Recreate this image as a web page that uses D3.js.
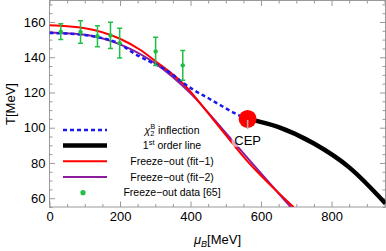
<!DOCTYPE html>
<html>
<head>
<meta charset="utf-8">
<script src="https://cdn.jsdelivr.net/npm/d3@7"></script>
<style>
  body { margin: 0; background: #fff; }
  svg { display: block; font-family: "Liberation Sans", Arial, sans-serif; }
</style>
</head>
<body>
<div id="chart"></div>
<script>
// curves: [muB, T]
const inflection = [[0,153.8],[100,152.6],[130,151.6],[200,147.5],[238,142.4],[286,137.4],[315,134.6],[350,130],[381,125.2],[409,121.4],[452,116.6],[476,113.8],[536,107.2],[562,105]];
const firstOrder = [[562,105],[650,100.3],[750,91],[850,77.5],[953,57]];
const fit1 = [[0,158.1],[100,156.5],[200,150.5],[258,144.1],[301,137.7],[378,125.2],[465,104.5],[561,81],[692,55]];
const fit2 = [[0,154],[100,152.8],[200,147.3],[300,136.5],[400,119.5],[500,97],[600,74],[684,55]];
const cep = [562, 105];

// freeze-out data [65]: muB, T, error
const dataMu = [32, 88, 136, 173, 199, 301, 378];
const dataT = [154.5, 154.3, 151.9, 152.4, 148, 143.3, 135.4];
const dataErr = [4.5, 6.4, 5.9, 7.4, 8.5, 8.0, 8.4];

const muTicks = [0, 200, 400, 600, 800];
const tTicks = [60, 80, 100, 120, 140, 160];

const W = 386, H = 251;
const svg = d3.select('#chart').append('svg')
  .attr('width', W)
  .attr('height', H);

const x = d3.scaleLinear().domain([0, 953]).range([49.5, 385.5]);
const y = d3.scaleLinear().domain([55, 172.2]).range([207, 0.5]);

const frameColor = '#9a9a9a';

// minor ticks
const minorX = d3.range(0, 951, 50).filter(d => !muTicks.includes(d));
const minorY = d3.range(55, 172, 5).filter(d => !tTicks.includes(d));

function tickAxis(axis, g) {
  g.call(axis);
  g.select('.domain').remove();
  g.selectAll('line').attr('stroke', frameColor);
}

tickAxis(d3.axisBottom(x).tickValues(minorX).tickSize(-3).tickFormat(''),
  svg.append('g').attr('transform', 'translate(0,207)'));
tickAxis(d3.axisTop(x).tickValues(minorX).tickSize(-3).tickFormat(''),
  svg.append('g').attr('transform', 'translate(0,0.5)'));
tickAxis(d3.axisLeft(y).tickValues(minorY).tickSize(-3).tickFormat(''),
  svg.append('g').attr('transform', 'translate(49.5,0)'));
tickAxis(d3.axisRight(y).tickValues(minorY).tickSize(-3).tickFormat(''),
  svg.append('g').attr('transform', 'translate(385.5,0)'));

// major ticks
const xAxis = svg.append('g').attr('transform', 'translate(0,207)');
tickAxis(d3.axisBottom(x).tickValues(muTicks).tickSize(-5.5).tickPadding(5), xAxis);
tickAxis(d3.axisTop(x).tickValues(muTicks).tickSize(-5.5).tickFormat(''),
  svg.append('g').attr('transform', 'translate(0,0.5)'));
const yAxis = svg.append('g').attr('transform', 'translate(49.5,0)');
tickAxis(d3.axisLeft(y).tickValues(tTicks).tickSize(-5.5).tickPadding(4), yAxis);
tickAxis(d3.axisRight(y).tickValues(tTicks).tickSize(-5.5).tickFormat(''),
  svg.append('g').attr('transform', 'translate(385.5,0)'));

svg.selectAll('.tick text')
  .attr('font-size', 13)
  .attr('font-family', '"Liberation Sans", Arial, sans-serif')
  .attr('fill', '#000');

// frame
svg.append('rect')
  .attr('x', 49.5).attr('y', 0.5)
  .attr('width', 336).attr('height', 206.5)
  .attr('fill', 'none')
  .attr('stroke', frameColor)
  .attr('stroke-width', 1);

// clip
svg.append('clipPath').attr('id', 'clip')
  .append('rect')
  .attr('x', 49.5).attr('y', 0.5)
  .attr('width', 336).attr('height', 206.5);

const plot = svg.append('g').attr('clip-path', 'url(#clip)');

const line = d3.line()
  .x(d => x(d[0]))
  .y(d => y(d[1]))
  .curve(d3.curveMonotoneX);

plot.append('path').datum(fit2)
  .attr('d', line).attr('fill', 'none')
  .attr('stroke', '#8b1d9c').attr('stroke-width', 2);

plot.append('path').datum(fit1)
  .attr('d', line).attr('fill', 'none')
  .attr('stroke', '#ff0000').attr('stroke-width', 2);

plot.append('path').datum(inflection)
  .attr('d', line).attr('fill', 'none')
  .attr('stroke', '#1a1aee').attr('stroke-width', 2.5)
  .attr('stroke-dasharray', '4,3');

plot.append('path').datum(firstOrder)
  .attr('d', line).attr('fill', 'none')
  .attr('stroke', '#000').attr('stroke-width', 4.5);

// data with error bars
const green = '#1fbf45';
const pts = plot.append('g').selectAll('g')
  .data(dataMu.map((m, i) => ({ mu: m, t: dataT[i], e: dataErr[i] })))
  .join('g');

pts.append('line')
  .attr('x1', d => x(d.mu)).attr('x2', d => x(d.mu))
  .attr('y1', d => y(d.t - d.e)).attr('y2', d => y(d.t + d.e))
  .attr('stroke', green).attr('stroke-width', 1.5);
pts.append('line')
  .attr('x1', d => x(d.mu) - 2.5).attr('x2', d => x(d.mu) + 2.5)
  .attr('y1', d => y(d.t - d.e)).attr('y2', d => y(d.t - d.e))
  .attr('stroke', green).attr('stroke-width', 1.5);
pts.append('line')
  .attr('x1', d => x(d.mu) - 2.5).attr('x2', d => x(d.mu) + 2.5)
  .attr('y1', d => y(d.t + d.e)).attr('y2', d => y(d.t + d.e))
  .attr('stroke', green).attr('stroke-width', 1.5);
pts.append('circle')
  .attr('cx', d => x(d.mu)).attr('cy', d => y(d.t))
  .attr('r', 2.2).attr('fill', green);

// CEP
plot.append('circle')
  .attr('cx', x(cep[0])).attr('cy', y(cep[1]))
  .attr('r', 9).attr('fill', '#ff0000');

plot.append('line')
  .attr('x1', x(cep[0])).attr('x2', x(cep[0]))
  .attr('y1', y(cep[1]) + 1).attr('y2', y(cep[1]) + 10)
  .attr('stroke', '#b0b0b0').attr('stroke-width', 1.5);

plot.append('rect')
  .attr('x', x(cep[0]) - 16).attr('y', y(cep[1]) + 14)
  .attr('width', 32).attr('height', 14)
  .attr('fill', '#fff').attr('opacity', 0.6);

plot.append('text')
  .attr('x', x(cep[0])).attr('y', y(cep[1]) + 26)
  .attr('text-anchor', 'middle')
  .attr('font-size', 13)
  .text('CEP');

// legend
const legend = svg.append('g');
const rowY = [130, 145.5, 161.3, 177, 192.7];
const legX0 = 63, legX1 = 107, legTextX = 172;

legend.append('line').attr('x1', legX0).attr('x2', legX1).attr('y1', rowY[0]).attr('y2', rowY[0])
  .attr('stroke', '#1a1aee').attr('stroke-width', 2.5).attr('stroke-dasharray', '4,3');
legend.append('line').attr('x1', legX0).attr('x2', legX1).attr('y1', rowY[1]).attr('y2', rowY[1])
  .attr('stroke', '#000').attr('stroke-width', 4.5);
legend.append('line').attr('x1', legX0).attr('x2', legX1).attr('y1', rowY[2]).attr('y2', rowY[2])
  .attr('stroke', '#ff0000').attr('stroke-width', 2);
legend.append('line').attr('x1', legX0).attr('x2', legX1).attr('y1', rowY[3]).attr('y2', rowY[3])
  .attr('stroke', '#8b1d9c').attr('stroke-width', 2);
legend.append('circle').attr('cx', 83).attr('cy', rowY[4]).attr('r', 2.6).attr('fill', green);

const lt = (i) => legend.append('text')
  .attr('x', legTextX).attr('y', rowY[i] + 3.7)
  .attr('text-anchor', 'middle')
  .attr('font-size', 10.5);

const t0 = lt(0);
t0.append('tspan').attr('font-style', 'italic').text('χ');
t0.append('tspan').attr('font-size', 7.5).attr('dy', 2.5).text('2');
t0.append('tspan').attr('font-size', 7).attr('dx', -4).attr('dy', -7).text('B');
t0.append('tspan').attr('dy', 4.5).text(' inflection');

const t1 = lt(1);
t1.append('tspan').text('1');
t1.append('tspan').attr('font-size', 7.5).attr('dy', -4).text('st');
t1.append('tspan').attr('dy', 4).text(' order line');

lt(2).text('Freeze\u2212out (fit\u22121)');
lt(3).text('Freeze\u2212out (fit\u22122)');
lt(4).text('Freeze\u2212out data [65]');

// axis labels
const xl = svg.append('text')
  .attr('x', 217.5).attr('y', 244)
  .attr('text-anchor', 'middle')
  .attr('font-size', 13);
xl.append('tspan').attr('font-style', 'italic').text('μ');
xl.append('tspan').attr('font-style', 'italic').attr('font-size', 9).attr('dy', 3).text('B');
xl.append('tspan').attr('dy', -3).text('[MeV]');

svg.append('text')
  .attr('transform', 'translate(15,104) rotate(-90)')
  .attr('text-anchor', 'middle')
  .attr('font-size', 13)
  .text('T[MeV]');
</script>
</body>
</html>
